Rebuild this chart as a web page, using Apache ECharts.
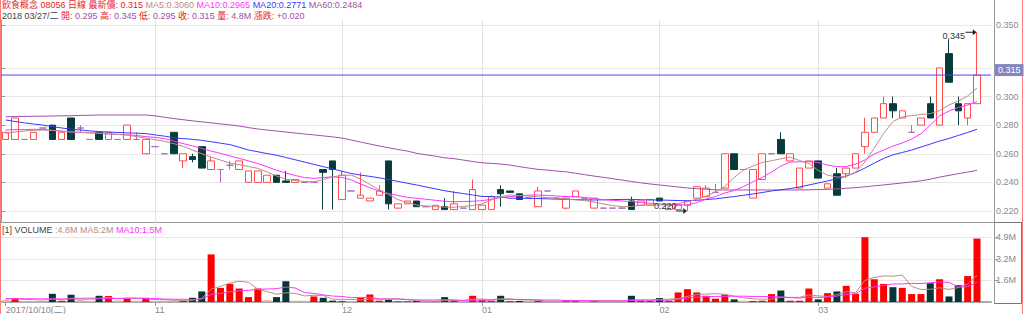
<!DOCTYPE html>
<html><head><meta charset="utf-8">
<script src="https://cdn.jsdelivr.net/npm/echarts/dist/echarts.min.js"></script>
<style>html,body{margin:0;padding:0;background:#fff}#c{width:1024px;height:314px}</style>
</head><body><div id="c"></div>
<script>
// ---------- data ----------
const opens = [.270,.270,.270,.270,.278,.280,.270,.285,.278,.270,
 .275,.270,.270,.270,.270,.260,.265,.260,.275,.255,
 .258,.265,.249,.249,.252,.249,.240,.240,.240,.245,
 .241,.240,.240,.240,.249,.255,.228,.234,.229,.227,
 .231,.255,.222,.225,.227,.223,.221,.223,.221,.222,
 .221,.221,.221,.235,.234,.232,.229,.223,.234,.229,
 .222,.230,.229,.222,.222,.222,.222,.227,.224,.224,
 .229,.221,.221,.224,.229,.230,.233,.236,.260,.249,
 .229,.242,.260,.270,.255,.236,.250,.255,.236,.246,
 .246,.250,.265,.275,.285,.295,.285,.275,.280,.295,
 .280,.330,.295,.285,.295];
const closes = [.275,.285,.270,.275,.278,.270,.275,.270,.278,.270,
 .270,.275,.270,.280,.270,.270,.265,.260,.260,.260,
 .256,.250,.255,.249,.252,.255,.248,.248,.245,.240,
 .240,.242,.240,.240,.247,.249,.245,.234,.231,.229,
 .234,.225,.225,.227,.223,.223,.224,.221,.225,.222,
 .235,.224,.230,.232,.233,.228,.229,.234,.234,.229,
 .229,.234,.229,.229,.222,.222,.222,.221,.227,.228,
 .227,.224,.224,.227,.237,.236,.233,.260,.249,.249,
 .249,.260,.260,.260,.260,.250,.255,.243,.239,.231,
 .250,.260,.275,.285,.295,.290,.290,.275,.285,.285,
 .320,.310,.290,.295,.315];
const lows = [.270,.270,.270,.270,.278,.270,.270,.270,.275,.270,
 .270,.270,.270,.270,.270,.260,.265,.260,.260,.250,
 .254,.250,.249,.240,.249,.249,.240,.240,.240,.240,
 .240,.240,.240,.240,.221,.221,.228,.234,.229,.227,
 .231,.221,.222,.225,.223,.223,.221,.221,.221,.222,
 .221,.221,.221,.223,.233,.228,.229,.223,.234,.229,
 .221,.230,.229,.222,.222,.222,.222,.221,.224,.224,
 .227,.221,.221,.220,.229,.230,.233,.236,.249,.249,
 .229,.242,.260,.260,.255,.236,.250,.243,.236,.231,
 .243,.250,.260,.275,.285,.285,.285,.275,.280,.285,
 .280,.310,.280,.280,.295];
const highs = [.275,.285,.270,.275,.278,.280,.275,.285,.280,.270,
 .275,.275,.270,.280,.275,.270,.265,.260,.275,.260,
 .260,.265,.258,.249,.255,.255,.248,.248,.245,.245,
 .248,.242,.240,.240,.249,.255,.248,.234,.247,.229,
 .238,.255,.225,.227,.227,.223,.224,.229,.234,.222,
 .242,.224,.231,.238,.234,.232,.229,.237,.234,.229,
 .229,.234,.229,.229,.222,.222,.222,.230,.227,.228,
 .229,.224,.224,.227,.237,.238,.239,.260,.260,.249,
 .249,.260,.260,.275,.260,.250,.255,.255,.239,.250,
 .250,.260,.285,.285,.300,.300,.290,.280,.285,.300,
 .320,.340,.300,.295,.345];
const ma5 = [.2743,.2752,.2759,.2764,.2766,.2763,.2758,.2753,.2750,.2747,
 .2743,.2739,.2735,.2731,.2720,.2710,.2698,.2687,.2671,.2652,
 .2626,.2600,.2577,.2556,.2535,.2523,.2511,.2498,.2472,.2444,
 .2423,.2413,.2406,.2404,.2420,.2438,.2448,.2451,.2423,.2385,
 .2347,.2315,.2280,.2259,.2242,.2235,.2230,.2227,.2226,.2232,
 .2238,.2249,.2277,.2298,.2312,.2308,.2304,.2299,.2294,.2289,
 .2283,.2278,.2273,.2263,.2249,.2238,.2230,.2232,.2240,.2242,
 .2242,.2245,.2252,.2265,.2282,.2304,.2333,.2371,.2434,.2486,
 .2514,.2539,.2551,.2565,.2577,.2553,.2532,.2483,.2451,.2437,
 .2441,.2472,.2542,.2640,.2742,.2825,.2857,.2867,.2874,.2881,
 .2902,.2941,.2969,.3004,.3060];
const ma10 = [.2766,.2768,.2769,.2771,.2769,.2764,.2758,.2752,.2749,.2746,
 .2743,.2739,.2736,.2732,.2728,.2720,.2714,.2706,.2689,.2671,
 .2655,.2637,.2619,.2603,.2585,.2568,.2550,.2532,.2509,.2485,
 .2466,.2448,.2434,.2428,.2434,.2439,.2434,.2417,.2389,.2363,
 .2338,.2322,.2308,.2296,.2289,.2282,.2275,.2268,.2265,.2266,
 .2268,.2272,.2282,.2294,.2300,.2306,.2311,.2312,.2309,.2305,
 .2301,.2300,.2294,.2287,.2279,.2275,.2270,.2265,.2259,.2254,
 .2249,.2247,.2244,.2242,.2259,.2284,.2301,.2326,.2343,.2371,
 .2403,.2434,.2472,.2514,.2542,.2544,.2544,.2539,.2521,.2510,
 .2510,.2528,.2556,.2598,.2626,.2654,.2675,.2703,.2740,.2800,
 .2864,.2899,.2923,.2941,.2965];
const ma20 = [.2836,.2826,.2816,.2808,.2800,.2790,.2780,.2772,.2766,.2760,
 .2755,.2752,.2749,.2746,.2744,.2741,.2732,.2723,.2712,.2706,
 .2701,.2694,.2684,.2674,.2664,.2646,.2626,.2614,.2601,.2590,
 .2574,.2558,.2542,.2526,.2510,.2494,.2478,.2462,.2451,.2442,
 .2432,.2420,.2407,.2394,.2382,.2368,.2355,.2342,.2331,.2322,
 .2312,.2302,.2300,.2298,.2289,.2289,.2289,.2287,.2285,.2283,
 .2281,.2280,.2278,.2277,.2278,.2280,.2281,.2281,.2279,.2277,
 .2277,.2275,.2273,.2272,.2275,.2280,.2285,.2293,.2301,.2310,
 .2319,.2329,.2340,.2348,.2357,.2368,.2382,.2396,.2410,.2424,
 .2444,.2469,.2500,.2535,.2567,.2593,.2609,.2626,.2647,.2668,
 .2689,.2707,.2728,.2749,.2771];
const ma60 = [.2859,.2860,.2861,.2862,.2863,.2864,.2865,.2866,.2868,.2869,
 .2871,.2871,.2871,.2871,.2871,.2871,.2865,.2855,.2846,.2838,
 .2830,.2823,.2816,.2809,.2802,.2794,.2783,.2773,.2766,.2759,
 .2752,.2745,.2738,.2732,.2725,.2718,.2710,.2696,.2682,.2668,
 .2654,.2642,.2630,.2619,.2603,.2593,.2583,.2572,.2566,.2556,
 .2546,.2537,.2533,.2528,.2521,.2510,.2500,.2491,.2486,.2479,
 .2474,.2464,.2454,.2444,.2435,.2426,.2416,.2406,.2397,.2389,
 .2382,.2375,.2368,.2361,.2356,.2352,.2348,.2347,.2347,.2347,
 .2347,.2347,.2347,.2347,.2347,.2347,.2348,.2350,.2351,.2354,
 .2359,.2363,.2369,.2376,.2382,.2389,.2396,.2403,.2411,.2422,
 .2437,.2449,.2461,.2472,.2484];
// volume in millions of shares
const volumes = [.17,.30,.08,.08,.05,.62,.10,.55,.15,.08,
 .47,.45,.12,.30,.10,.32,.08,.10,.05,.10,
 .32,.80,3.60,1.07,1.37,1.02,.37,1.02,.15,.37,
 1.57,.10,.10,.42,.32,.10,.08,.05,.32,.57,
 .10,.17,.05,.05,.08,.03,.05,.37,.10,.05,
 .47,.15,.08,.47,.05,.08,.03,.10,.05,.05,
 .15,.10,.05,.10,.08,.10,.05,.47,.10,.08,
 .30,.10,.72,.97,.72,.47,.25,.55,.20,.10,
 .08,.10,.60,.87,.10,.10,1.02,.20,.67,.80,
 1.22,.62,4.90,1.72,1.37,1.12,1.07,.60,.60,1.42,
 1.72,.42,1.27,1.96,4.80];
// volume bar colour class: 1 up (red), -1 down (dark), 0 flat (pale)
const volDir = [0,1,0,0,0,-1,1,-1,0,0, -1,1,0,1,0,1,0,0,0,1,
 -1,-1,1,1,1,1,1,1,0,-1, -1,0,0,1,-1,-1,1,0,1,1,
 1,-1,1,1,-1,0,1,-1,1,0, 1,1,1,-1,-1,-1,0,1,0,0,
 1,1,0,1,0,0,0,-1,1,1, -1,1,1,1,1,1,1,1,-1,0,
 1,1,1,-1,1,1,1,-1,1,-1, 1,1,1,1,1,-1,1,1,1,-1,
 1,-1,-1,1,1];
const volMa5 = [.25,.24,.20,.18,.14,.23,.19,.28,.29,.30,
 .27,.34,.25,.28,.29,.26,.18,.18,.13,.13,
 .13,.27,.97,1.18,1.43,1.57,1.49,.97,.79,.59,
 .70,.64,.46,.51,.50,.21,.20,.19,.17,.22,
 .22,.24,.24,.19,.09,.08,.05,.12,.13,.12,
 .21,.23,.17,.24,.24,.17,.14,.15,.06,.06,
 .08,.09,.08,.09,.10,.09,.08,.16,.16,.16,
 .20,.21,.26,.43,.56,.60,.63,.59,.44,.31,
 .24,.21,.22,.35,.35,.35,.54,.46,.42,.56,
 .78,.70,1.64,1.85,1.97,1.95,2.04,1.18,.95,.96,
 1.08,.95,1.09,1.36,2.03];
const volMa10 = [.25,.25,.25,.24,.24,.24,.23,.23,.22,.22,
 .25,.26,.27,.29,.29,.26,.26,.22,.21,.21,
 .19,.23,.58,.65,.78,.85,.88,.97,.98,1.01,
 1.13,1.06,.71,.65,.54,.45,.42,.33,.34,.36,
 .22,.22,.22,.18,.16,.15,.15,.18,.16,.11,
 .14,.14,.14,.19,.18,.19,.19,.16,.15,.15,
 .12,.12,.11,.08,.08,.08,.08,.12,.13,.13,
 .14,.14,.21,.30,.36,.40,.42,.43,.44,.44,
 .42,.42,.40,.39,.33,.30,.37,.34,.38,.45,
 .57,.62,1.05,1.14,1.26,1.36,1.37,1.41,1.40,1.46,
 1.51,1.49,1.13,1.16,1.50];
// x-axis labels and their category positions
const monthTicks = [0, 16, 36, 51, 70, 87];
const monthLabels = ['2017/10/10(二)', '11', '12', '01', '02', '03'];
const priceLabelValues = [0.22, 0.24, 0.26, 0.28, 0.30, 0.35];
const priceGridValues = [0.22, 0.24, 0.26, 0.28, 0.30, 0.32, 0.35];
const headerDate = '2018 03/27/二';
const stockName = '飲食概念 08056 日線';

// ---------- derived ----------
const FONT = "'Liberation Sans','Noto Sans CJK TC',sans-serif";
const N = closes.length;
const last = N - 1;
const categories = [];
for (let i = 0; i < N + 1; i++) categories.push(String(i)); // one empty slot at right
const candles = opens.map((o, i) => [o, closes[i], lows[i], highs[i]]);
const hiVal = Math.max(...highs), hiIdx = highs.lastIndexOf(hiVal);
const loVal = Math.min(...lows), loIdx = lows.lastIndexOf(loVal);
const volMax = Math.max(...volumes);
const volTicks = [volMax / 3, volMax * 2 / 3, volMax];
const volColors = {'1': '#ff0000', '-1': '#053636', '0': '#f7a8a8'};
const volData = volumes.map((v, i) => ({value: v, itemStyle: {color: volColors[volDir[i]]}}));
const f3 = v => v.toFixed(3), f4 = v => v.toFixed(4);
const fM = v => parseFloat(v.toFixed(1)) + 'M';
const chg = closes[last] - closes[last - 1];

const C = {red: '#e8231f', m5: '#bb8c86', m10: '#ff33ff', m20: '#3838ff', m60: '#a050a8', dark: '#444', val: '#a050a8', last: '#4646ff'};
const rs = c => ({color: c, fontSize: 9, fontFamily: FONT});
const rich = {r: rs(C.red), a: rs(C.m5), b: rs(C.m10), c: rs(C.m20), e: rs(C.m60), d: rs(C.dark), k: rs(C.red), v: rs(C.val)};

const header1 = `{r|${stockName} 最新價: ${f3(closes[last])}} {a|MA5:${f4(ma5[last])}} {b|MA10:${f4(ma10[last])}} {c|MA20:${f4(ma20[last])}} {e|MA60:${f4(ma60[last])}}`;
const header2 = `{d|${headerDate}} {k|開:} {v|${f3(opens[last])}} {k|高:} {v|${f3(highs[last])}} {k|低:} {v|${f3(lows[last])}} {k|收:} {v|${f3(closes[last])}} {k|量:} {v|${fM(volumes[last])}} {k|漲跌:} {v|${chg >= 0 ? '+' : ''}${f3(chg)}}`;
const header3 = `{d|[1] VOLUME} {a|:${fM(volumes[last])} MA5:${fM(volMa5[last])}} {b|MA10:${fM(volMa10[last])}}`;

const isTick = (idx) => monthTicks.indexOf(idx) >= 0;
const monthLines = monthTicks.slice(1).map(i => ({xAxis: i}));
const arrowPath = 'path://M0,2.5 L8.5,2.5 L8.5,3.5 L0,3.5 Z M8,0 L12,3 L8,6 Z';

const titleBase = {left: 2, padding: 0, textStyle: {fontSize: 9, fontFamily: FONT, fontWeight: 'normal', color: '#444', rich: rich}};

const option = {
  animation: false,
  backgroundColor: '#fff',
  textStyle: {fontFamily: FONT},
  title: [
    Object.assign({}, titleBase, {top: 0, text: header1}),
    Object.assign({}, titleBase, {top: 11, text: header2}),
    Object.assign({}, titleBase, {top: 225, text: header3})
  ],
  grid: [
    {left: 1, width: 990, top: 20, height: 202},
    {left: 1, width: 990, top: 222, height: 81}
  ],
  xAxis: [
    {type: 'category', gridIndex: 0, data: categories, boundaryGap: true,
     axisLine: {show: false}, axisTick: {show: false}, axisLabel: {show: false}, splitLine: {show: false}},
    {type: 'category', gridIndex: 1, data: categories, boundaryGap: true,
     axisLine: {show: true, lineStyle: {color: '#aaaaaa', width: 2}},
     axisTick: {show: true, interval: isTick, alignWithLabel: true, length: 4, lineStyle: {color: '#999'}},
     axisLabel: {show: true, interval: isTick, align: 'left', margin: 3, color: '#888', fontSize: 9, fontFamily: FONT,
       formatter: (v, i) => { const k = monthTicks.indexOf(i); return k >= 0 ? monthLabels[k] : ''; }},
     splitLine: {show: false}},
    // helper axis spanning the full width of the price panel (for the last-price line)
    {type: 'value', gridIndex: 0, min: 0, max: 1, show: false}
  ],
  yAxis: [
    {type: 'value', gridIndex: 0, position: 'right', offset: 3, min: 0.21231, max: 0.35349, scale: true,
     axisLine: {show: true, lineStyle: {color: '#999'}},
     axisTick: {show: true, customValues: priceGridValues, length: 4, lineStyle: {color: '#999'}},
     axisLabel: {show: true, customValues: priceLabelValues, formatter: v => v.toFixed(3), color: '#888', fontSize: 9, fontFamily: FONT, margin: 2},
     splitLine: {show: true, lineStyle: {color: '#e6e6e6'}}},
    {type: 'value', gridIndex: 1, position: 'right', offset: 3, min: 0, max: volMax * 1.235,
     axisLine: {show: true, lineStyle: {color: '#999'}},
     axisTick: {show: true, customValues: volTicks, length: 4, lineStyle: {color: '#999'}},
     axisLabel: {show: true, customValues: volTicks, formatter: v => (Math.floor(v * 10 + 1e-6) / 10) + 'M', color: '#888', fontSize: 9, fontFamily: FONT, margin: 2},
     splitLine: {show: true, lineStyle: {color: '#e6e6e6'}}}
  ],
  graphic: [
    {type: 'rect', shape: {x: 0, y: 0, width: 1, height: 314}, style: {fill: '#ff7b7b'}, silent: true},
    {type: 'rect', shape: {x: 1022, y: 0, width: 1, height: 314}, style: {fill: '#ff7b7b'}, silent: true},
    {type: 'line', shape: {x1: 0, y1: 222.5, x2: 1022, y2: 222.5}, style: {stroke: '#999', lineWidth: 1}, silent: true},
    {type: 'line', shape: {x1: 994.5, y1: 0, x2: 994.5, y2: 222}, style: {stroke: '#999', lineWidth: 1}, silent: true},
    {type: 'rect', shape: {x: 994.5, y: 222.5, width: 27, height: 81}, style: {fill: 'none', stroke: '#777', lineWidth: 1}, silent: true}
  ],
  series: [
    {type: 'candlestick', name: 'K', xAxisIndex: 0, yAxisIndex: 0, data: candles, barWidth: 7,
     itemStyle: {color: '#ffffff', color0: '#073b3b', borderColor: '#ff4d4d', borderColor0: '#0d3f3f', borderColorDoji: '#a66cc0', borderWidth: 1},
     markPoint: {silent: true, symbol: arrowPath, symbolSize: [11, 6], symbolKeepAspect: false, animation: false, precision: 3,
       itemStyle: {color: '#222'},
       label: {show: true, color: '#333', fontSize: 9, fontFamily: FONT, align: 'left', verticalAlign: 'top', formatter: p => f3(Number(p.value))},
       data: [
         {coord: [hiIdx, hiVal], value: hiVal, symbolOffset: [-6, 0], label: {position: [-23, 2]}},
         {coord: [loIdx, loVal], value: loVal, symbolOffset: [-6, 0], label: {position: [-22, -7]}}
       ]}},
    {type: 'line', name: 'MA60', xAxisIndex: 0, yAxisIndex: 0, data: ma60, showSymbol: false, symbol: 'none',
     lineStyle: {color: C.m60, width: 1},
     markLine: {silent: true, symbol: 'none', z: 1, animation: false, label: {show: false}, lineStyle: {color: '#e2e2e2', width: 1, type: 'solid'}, data: monthLines}},
    {type: 'line', name: 'MA20', xAxisIndex: 0, yAxisIndex: 0, data: ma20, showSymbol: false, symbol: 'none', lineStyle: {color: C.m20, width: 1}},
    {type: 'line', name: 'MA10', xAxisIndex: 0, yAxisIndex: 0, data: ma10, showSymbol: false, symbol: 'none', lineStyle: {color: C.m10, width: 1}},
    {type: 'line', name: 'MA5', xAxisIndex: 0, yAxisIndex: 0, data: ma5, showSymbol: false, symbol: 'none', lineStyle: {color: C.m5, width: 1}},
    // last-price line across the whole panel, with its value tag on the axis
    {type: 'line', name: 'LAST', xAxisIndex: 2, yAxisIndex: 0, silent: true, showSymbol: false, symbol: 'none', z: 4,
     data: [[0, closes[last]], [1, closes[last]]],
     itemStyle: {color: C.last}, lineStyle: {color: C.last, width: 1},
     endLabel: {show: true, distance: 4, offset: [0, -5], formatter: p => f3(p.value[1]), color: '#fff',
       backgroundColor: '#8585c2', padding: [2, 3, 1, 3], fontSize: 9, fontFamily: FONT}},
    {type: 'bar', name: 'VOL', xAxisIndex: 1, yAxisIndex: 1, data: volData, barWidth: 7,
     markLine: {silent: true, symbol: 'none', z: 1, animation: false, label: {show: false}, lineStyle: {color: '#e2e2e2', width: 1, type: 'solid'}, data: monthLines}},
    {type: 'line', name: 'VMA5', xAxisIndex: 1, yAxisIndex: 1, data: volMa5, showSymbol: false, symbol: 'none', lineStyle: {color: C.m5, width: 1}},
    {type: 'line', name: 'VMA10', xAxisIndex: 1, yAxisIndex: 1, data: volMa10, showSymbol: false, symbol: 'none', lineStyle: {color: C.m10, width: 1}}
  ]
};
const chart = echarts.init(document.getElementById('c'), null, {renderer: 'svg', width: 1024, height: 314});
chart.setOption(option);
</script></body></html>
